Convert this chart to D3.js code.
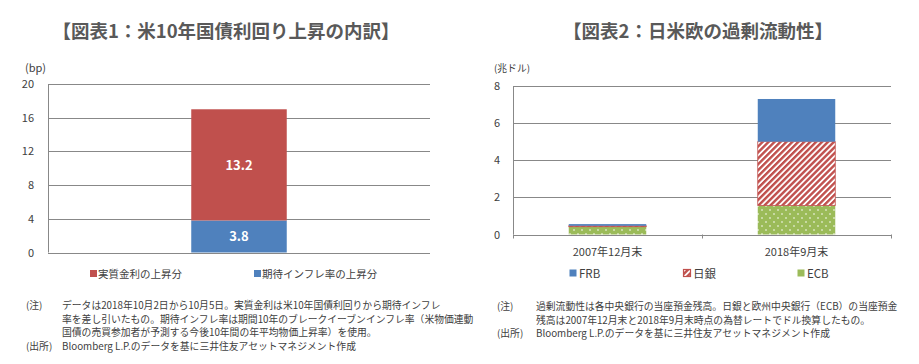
<!DOCTYPE html>
<html>
  <head>
    <meta charset="utf-8">
    <script type="text/javascript" src="https://cdn.jsdelivr.net/npm/d3@7/dist/d3.min.js"></script>
    <style>
      body { margin: 0; background: #fff; }
      svg text { font-family: "Noto Sans CJK JP", "Noto Sans", sans-serif; fill: #404040; }
      .title { font-size: 18.5px; font-weight: bold; fill: #595959; }
      .tick-label { font-size: 11px; }
      .legend { font-size: 10.5px; }
      .note { font-size: 9.8px; }
    </style>
  </head>
  <body>
    <div id="chart"></div>
  </body>
  <script>
  (function (d3) {
    'use strict';

    // chart 1 data
    var cats1 = [''];
    var inflation = [3.8];   // 期待インフレ率の上昇分
    var realRate = [13.2];   // 実質金利の上昇分
    var ticks1 = [0, 4, 8, 12, 16, 20];

    // chart 2 data
    var cats2 = ['2007年12月末', '2018年9月末'];
    var ecb = [0.42, 1.56];
    var boj = [0.05, 3.44];
    var frb = [0.09, 2.30];
    var ticks2 = [0, 2, 4, 6, 8];

    var red = '#C0504D', blue = '#4F81BD', green = '#9BBB59', grid = '#888888';

    var svg = d3.select('#chart').append('svg')
      .attr('width', 919)
      .attr('height', 364);

    // patterns
    var defs = svg.append('defs');
    var stripes = defs.append('pattern')
      .attr('id', 'stripes')
      .attr('patternUnits', 'userSpaceOnUse')
      .attr('width', 4.2).attr('height', 4.2)
      .attr('patternTransform', 'rotate(45)');
    stripes.append('rect').attr('width', 4.2).attr('height', 4.2).attr('fill', '#fff');
    stripes.append('rect').attr('width', 2.4).attr('height', 4.2).attr('fill', red);

    var dots = defs.append('pattern')
      .attr('id', 'dots')
      .attr('patternUnits', 'userSpaceOnUse')
      .attr('width', 8).attr('height', 8);
    dots.append('rect').attr('width', 8).attr('height', 8).attr('fill', green);
    dots.append('circle').attr('cx', 2).attr('cy', 2).attr('r', 0.8).attr('fill', '#fff');
    dots.append('circle').attr('cx', 6).attr('cy', 6).attr('r', 0.8).attr('fill', '#fff');

    // ---------- chart 1 ----------
    var x1 = d3.scaleBand().domain(cats1).range([48, 430]).padding(0.6);
    var y1 = d3.scaleLinear().domain([0, 20]).range([252.5, 84]);

    svg.append('text').attr('class', 'title')
      .attr('x', 226).attr('y', 38).attr('text-anchor', 'middle')
      .text('【図表1：米10年国債利回り上昇の内訳】');

    svg.append('text').attr('class', 'tick-label')
      .attr('x', 25).attr('y', 72).text('(bp)');

    var g1 = svg.append('g');
    g1.selectAll('.grid').data(ticks1).enter().append('line')
      .attr('x1', 48).attr('x2', 430)
      .attr('y1', function (d) { return Math.round(y1(d)) + 0.5; })
      .attr('y2', function (d) { return Math.round(y1(d)) + 0.5; })
      .attr('stroke', grid).attr('stroke-width', 1);
    g1.append('line')
      .attr('x1', 48.5).attr('x2', 48.5).attr('y1', y1(20)).attr('y2', y1(0))
      .attr('stroke', grid);
    g1.selectAll('.tl').data(ticks1).enter().append('text')
      .attr('class', 'tick-label')
      .attr('x', 34).attr('y', function (d) { return y1(d) + 4; })
      .attr('text-anchor', 'end')
      .text(function (d) { return d; });

    var stack1 = d3.stack().keys(['inf', 'real'])(cats1.map(function (c, i) {
      return { cat: c, inf: inflation[i], real: realRate[i] };
    }));
    var colors1 = { inf: blue, real: red };
    stack1.forEach(function (layer) {
      g1.selectAll(null).data(layer).enter().append('rect')
        .attr('x', function (d) { return x1(d.data.cat); })
        .attr('width', x1.bandwidth())
        .attr('y', function (d) { return y1(d[1]); })
        .attr('height', function (d) { return y1(d[0]) - y1(d[1]); })
        .attr('fill', colors1[layer.key]);
      g1.selectAll(null).data(layer).enter().append('text')
        .attr('x', function (d) { return x1(d.data.cat) + x1.bandwidth() / 2; })
        .attr('y', function (d) { return y1((d[0] + d[1]) / 2) + 5; })
        .attr('text-anchor', 'middle')
        .style('fill', '#fff').style('font-size', '13px').style('font-weight', 'bold')
        .text(function (d) { return (d[1] - d[0]).toFixed(1); });
    });

    var legend1 = [
      { label: '実質金利の上昇分', x: 90, fill: red },
      { label: '期待インフレ率の上昇分', x: 254, fill: blue }
    ];
    var lg1 = svg.selectAll('.lg1').data(legend1).enter().append('g')
      .attr('transform', function (d) { return 'translate(' + d.x + ',274)'; });
    lg1.append('rect').attr('x', 0).attr('y', -4).attr('width', 7).attr('height', 7)
      .attr('fill', function (d) { return d.fill; });
    lg1.append('text').attr('class', 'legend').attr('x', 8).attr('y', 4)
      .text(function (d) { return d.label; });

    var notes1 = [
      ['(注)', 'データは2018年10月2日から10月5日。実質金利は米10年国債利回りから期待インフレ'],
      ['', '率を差し引いたもの。期待インフレ率は期間10年のブレークイーブンインフレ率（米物価連動'],
      ['', '国債の売買参加者が予測する今後10年間の年平均物価上昇率）を使用。'],
      ['(出所)', 'Bloomberg L.P.のデータを基に三井住友アセットマネジメント作成']
    ];
    notes1.forEach(function (n, i) {
      svg.append('text').attr('class', 'note').attr('x', 26).attr('y', 309 + i * 13.5).text(n[0]);
      svg.append('text').attr('class', 'note').attr('x', 62).attr('y', 309 + i * 13.5).text(n[1]);
    });

    // ---------- chart 2 ----------
    var x2 = d3.scaleBand().domain(cats2).range([513, 891]).paddingInner(0.59).paddingOuter(0.295);
    var y2 = d3.scaleLinear().domain([0, 8]).range([234.5, 86]);

    svg.append('text').attr('class', 'title')
      .attr('x', 698).attr('y', 38).attr('text-anchor', 'middle')
      .text('【図表2：日米欧の過剰流動性】');

    svg.append('text').attr('class', 'note')
      .attr('x', 494).attr('y', 72).text('(兆ドル)');

    var g2 = svg.append('g');
    g2.selectAll('.grid').data(ticks2).enter().append('line')
      .attr('x1', 513).attr('x2', 891)
      .attr('y1', function (d) { return Math.round(y2(d)) + 0.5; })
      .attr('y2', function (d) { return Math.round(y2(d)) + 0.5; })
      .attr('stroke', grid);
    g2.append('line')
      .attr('x1', 513.5).attr('x2', 513.5).attr('y1', y2(8)).attr('y2', y2(0))
      .attr('stroke', grid);
    var bounds = [513, 513 + x2.step(), 891];
    g2.selectAll('.tk').data(bounds).enter().append('line')
      .attr('x1', function (d) { return Math.round(d) + 0.5; })
      .attr('x2', function (d) { return Math.round(d) + 0.5; })
      .attr('y1', y2(0)).attr('y2', y2(0) + 4)
      .attr('stroke', grid);
    g2.selectAll('.tl').data(ticks2).enter().append('text')
      .attr('class', 'tick-label')
      .attr('x', 500).attr('y', function (d) { return y2(d) + 4; })
      .attr('text-anchor', 'end')
      .text(function (d) { return d; });
    g2.selectAll('.xl').data(cats2).enter().append('text')
      .attr('class', 'tick-label')
      .attr('x', function (d) { return x2(d) + x2.bandwidth() / 2; })
      .attr('y', 256)
      .attr('text-anchor', 'middle')
      .text(function (d) { return d; });

    var stack2 = d3.stack().keys(['ecb', 'boj', 'frb'])(cats2.map(function (c, i) {
      return { cat: c, ecb: ecb[i], boj: boj[i], frb: frb[i] };
    }));
    var fills2 = { ecb: 'url(#dots)', boj: 'url(#stripes)', frb: blue };
    stack2.forEach(function (layer) {
      g2.selectAll(null).data(layer).enter().append('rect')
        .attr('x', function (d) { return x2(d.data.cat); })
        .attr('width', x2.bandwidth())
        .attr('y', function (d) { return y2(d[1]); })
        .attr('height', function (d) { return y2(d[0]) - y2(d[1]); })
        .attr('fill', fills2[layer.key])
        .attr('stroke', layer.key === 'boj' ? red : 'none')
        .attr('stroke-width', 0.8);
    });

    var legend2 = [
      { label: 'FRB', x: 569, fill: blue, stroke: 'none' },
      { label: '日銀', x: 683, fill: 'url(#stripes)', stroke: red },
      { label: 'ECB', x: 797, fill: green, stroke: 'none' }
    ];
    var lg2 = svg.selectAll('.lg2').data(legend2).enter().append('g')
      .attr('transform', function (d) { return 'translate(' + d.x + ',273)'; });
    lg2.append('rect').attr('x', 0.5).attr('y', -3.5).attr('width', 7).attr('height', 7)
      .attr('fill', function (d) { return d.fill; })
      .attr('stroke', function (d) { return d.stroke; })
      .attr('stroke-width', 1.2);
    lg2.append('text').attr('class', 'legend').attr('x', 10).attr('y', 4.5)
      .style('font-size', '11.5px')
      .text(function (d) { return d.label; });

    var notes2 = [
      ['(注)', '過剰流動性は各中央銀行の当座預金残高。日銀と欧州中央銀行（ECB）の当座預金'],
      ['', '残高は2007年12月末と2018年9月末時点の為替レートでドル換算したもの。'],
      ['(出所)', 'Bloomberg L.P.のデータを基に三井住友アセットマネジメント作成']
    ];
    notes2.forEach(function (n, i) {
      svg.append('text').attr('class', 'note').attr('x', 497).attr('y', 310 + i * 13.5).text(n[0]);
      svg.append('text').attr('class', 'note').attr('x', 536).attr('y', 310 + i * 13.5).text(n[1]);
    });

  })(window.d3);
  </script>
</html>
